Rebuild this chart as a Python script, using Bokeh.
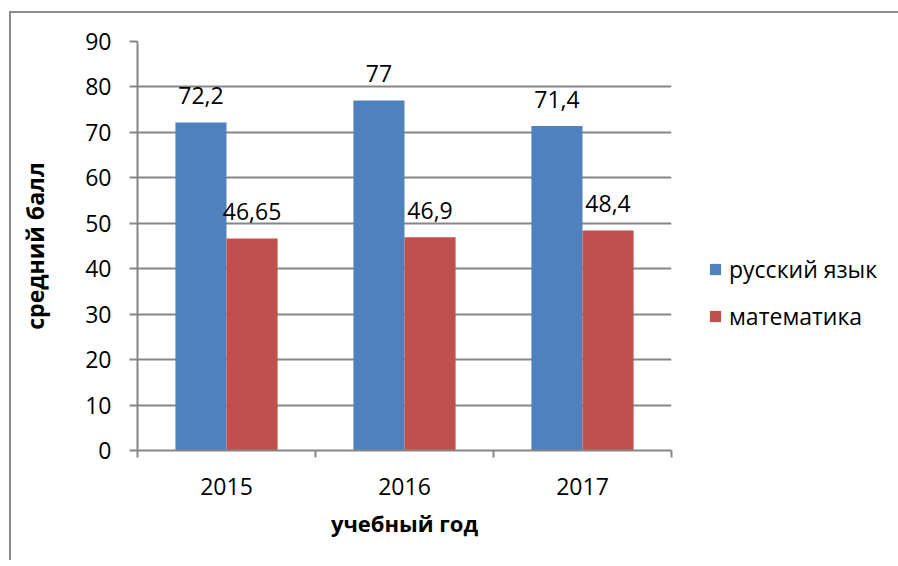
from bokeh.plotting import figure
from bokeh.models import ColumnDataSource, FixedTicker, Range1d, Legend, LegendItem
from bokeh.core.properties import value
from bokeh.embed import file_html
from bokeh.resources import INLINE
import numpy as np

years = ["2015", "2016", "2017"]
russian = [72.2, 77, 71.4]
math = [46.65, 46.9, 48.4]
series_names = ["русский язык", "математика"]
y_ticks = [0, 10, 20, 30, 40, 50, 60, 70, 80, 90]

BLUE = "#4F81BD"
RED = "#C0504D"
GRID = "#868686"
FONT = "Open Sans"
FS = "23px"

bar_w = 0.287
centers = np.arange(len(years)) + 0.5

def fmt(v):
    return f"{v:g}".replace(".", ",")

src_r = ColumnDataSource(dict(x=centers - bar_w / 2, top=russian, lab=[fmt(v) for v in russian]))
src_m = ColumnDataSource(dict(x=centers + bar_w / 2, top=math, lab=[fmt(v) for v in math]))

p = figure(frame_width=534, frame_height=409, output_backend="svg", toolbar_location=None,
           x_range=Range1d(0, len(years)), y_range=Range1d(0, 90),
           min_border_left=126, min_border_right=200, min_border_top=28, min_border_bottom=110)
p.styles = {"margin-left": "9px", "margin-top": "11px",
            "border-left": "2px solid #8c8c8c", "border-top": "2px solid #8c8c8c"}
p.outline_line_color = None
p.background_fill_color = "white"
p.border_fill_color = "white"

r1 = p.vbar(x="x", top="top", width=bar_w, source=src_r, fill_color=BLUE, line_color=None)
r2 = p.vbar(x="x", top="top", width=bar_w, source=src_m, fill_color=RED, line_color=None)

for s in (src_r, src_m):
    p.text(x="x", y="top", text="lab", source=s, text_align="center", text_baseline="alphabetic",
           y_offset=-27, text_font=value(FONT), text_font_size=FS, text_color="#000000")

# x axis
p.xaxis.ticker = FixedTicker(ticks=list(centers), minor_ticks=list(range(len(years) + 1)))
p.xaxis.major_label_overrides = {float(c): y for c, y in zip(centers, years)}
p.xaxis.major_tick_out = 0
p.xaxis.major_tick_in = 0
p.xaxis.minor_tick_out = 7
p.xaxis.minor_tick_in = 0
p.xaxis.minor_tick_line_color = GRID
p.xaxis.axis_line_color = GRID
p.xaxis.axis_line_width = 2
p.xaxis.minor_tick_line_width = 2
p.xaxis.major_label_standoff = 20
p.xaxis.major_label_text_font = FONT
p.xaxis.major_label_text_font_size = FS
p.xaxis.major_label_text_color = "#000000"
p.xaxis.axis_label = "учебный год"
p.xaxis.axis_label_text_font = FONT
p.xaxis.axis_label_text_font_size = "22px"
p.xaxis.axis_label_text_font_style = "bold"
p.xaxis.axis_label_text_color = "#000000"
p.xaxis.axis_label_standoff = 10

# y axis
p.yaxis.ticker = FixedTicker(ticks=y_ticks, minor_ticks=[])
p.yaxis.major_tick_out = 8
p.yaxis.major_tick_in = 0
p.yaxis.major_tick_line_color = GRID
p.yaxis.major_tick_line_width = 2
p.yaxis.axis_line_color = GRID
p.yaxis.axis_line_width = 2
p.yaxis.major_label_standoff = 18
p.yaxis.major_label_text_font = FONT
p.yaxis.major_label_text_font_size = FS
p.yaxis.major_label_text_color = "#000000"
p.yaxis.axis_label = "средний балл"
p.yaxis.axis_label_text_font = FONT
p.yaxis.axis_label_text_font_size = "23px"
p.yaxis.axis_label_text_font_style = "bold"
p.yaxis.axis_label_text_color = "#000000"
p.yaxis.axis_label_standoff = 31

p.xgrid.grid_line_color = None
p.ygrid.grid_line_color = GRID
p.ygrid.grid_line_width = 2
p.ygrid.ticker = FixedTicker(ticks=y_ticks)

legend = Legend(items=[LegendItem(label=series_names[0], renderers=[r1]),
                       LegendItem(label=series_names[1], renderers=[r2])],
                location=(37, 118), orientation="vertical",
                padding=0, margin=0, spacing=15, border_line_color=None,
                background_fill_alpha=0, glyph_width=14, glyph_height=14,
                label_height=32, label_standoff=7,
                label_text_font=FONT, label_text_font_size=FS, label_text_color="#000000")
p.add_layout(legend, "right")

open("out.html", "w").write(file_html(p, INLINE))
